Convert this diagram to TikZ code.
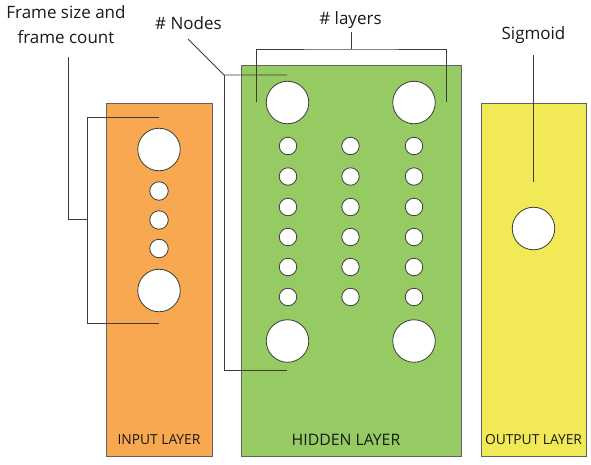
\documentclass[tikz,border=0pt]{standalone}
\usepackage{fontspec}
\setmainfont{Open Sans}
\definecolor{inC}{RGB}{248,168,80}
\definecolor{hidC}{RGB}{150,203,99}
\definecolor{outC}{RGB}{241,234,86}
\definecolor{lineC}{RGB}{60,60,60}

\begin{document}
\begin{tikzpicture}[x=1pt,y=-1pt,
  layer/.style={draw=lineC!80,line width=0.8pt,inner sep=0pt},
  big/.style={circle,draw=lineC,fill=white,line width=0.8pt,minimum size=42.5pt,inner sep=0pt},
  small/.style={circle,draw=lineC,fill=white,line width=0.8pt,minimum size=17.5pt,inner sep=0pt},
  lead/.style={draw=lineC,line width=0.8pt},
  lbl/.style={font=\fontsize{17}{25}\selectfont,text=black!90,align=center},
  tag/.style={font=\fontsize{13.8}{15}\selectfont,text=black!90}]
\useasboundingbox (0,0) rectangle (591,464);

% layer boxes
\node[layer,fill=inC,minimum width=106pt,minimum height=353pt] (inL) at (159,279.5) {};
\node[layer,fill=hidC,minimum width=220pt,minimum height=391pt] (hidL) at (351,260.5) {};
\node[layer,fill=outC,minimum width=105pt,minimum height=353pt] (outL) at (533.5,279.5) {};
\node[tag] (inT) at (159,440) {INPUT LAYER};
\node[tag,font=\fontsize{15.8}{17}\selectfont] (hidT) at (346,440) {HIDDEN LAYER};
\node[tag] (outT) at (533.5,440) {OUTPUT LAYER};

% input nodes
\node[big] (in1) at (159,149.5) {};
\node[small,minimum size=18.5pt] (in2) at (159,191) {};
\node[small,minimum size=18.5pt] (in3) at (159,220) {};
\node[small,minimum size=18.5pt] (in4) at (159,248.5) {};
\node[big] (in5) at (159,290.5) {};

% hidden nodes
\foreach \c/\x in {a/287.5,c/414}{
  \node[big] (h\c top) at (\x,102.5) {};
  \node[big] (h\c bot) at (\x,341) {};
}
\foreach \c/\x in {a/288,b/350.5,c/414}
  \foreach \r [count=\i] in {146,176.5,207,237,267,297}
    \node[small] (h\c\i) at (\x,\r) {};

% output node
\node[big] (out1) at (533.5,228.5) {};

% labels
\node[lbl] (frameT) at (66,25) {Frame size and\\frame count};
\node[lbl,anchor=base] (nodesT) at (188.5,29) {\# Nodes};
\node[lbl,anchor=base] (layersT) at (350.5,24.5) {\# layers};
\node[lbl,anchor=base] (sigT) at (533.5,39.5) {Sigmoid};

% leader lines
\coordinate (f0) at (68,57);
\coordinate (f1) at (87,219);
\coordinate (fTop) at (159,117);
\coordinate (fBot) at (159,323);
\draw[lead] (f0) |- (f1);
\draw[lead] (fTop) -| (fBot -| f1) -- (fBot);

\coordinate (n0) at (188,39);
\coordinate (n1) at (224,75);
\coordinate (nTop) at (287,75);
\coordinate (nBot) at (287,370);
\draw[lead] (n0) -- (n1) -- (nTop);
\draw[lead] (n1) |- (nBot);

\coordinate (l0) at (351,32);
\coordinate (l1) at (351,49);
\coordinate (lA) at (256,102);
\coordinate (lC) at (446,102);
\draw[lead] (l0) -- (l1);
\draw[lead] (lA) |- (l1) -| (lC);

\coordinate (s0) at (533.5,55);
\coordinate (s1) at (533.5,182);
\draw[lead] (s0) -- (s1);
\end{tikzpicture}
\end{document}
